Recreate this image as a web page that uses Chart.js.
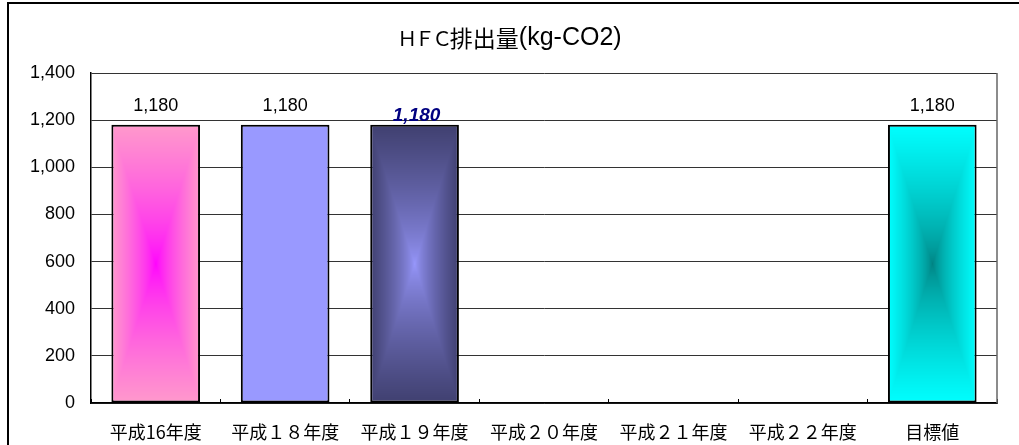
<!DOCTYPE html>
<html>
<head>
<meta charset="utf-8">
<script src="https://cdn.jsdelivr.net/npm/chart.js@4/dist/chart.umd.min.js"></script>
<style>
  body { margin: 0; background: #fff; overflow: hidden; }
  #wrap { position: relative; width: 1019px; height: 445px; }
  #frame { position: absolute; left: 7px; top: 2px; width: 1100px; height: 500px; border: 2px solid #000; pointer-events: none; }
</style>
</head>
<body>
<div id="wrap">
  <canvas id="chart" width="1019" height="445"></canvas>
  <div id="frame"></div>
</div>
<script>
// data
const categories = ['平成16年度', '平成１８年度', '平成１９年度', '平成２０年度', '平成２１年度', '平成２２年度', '目標値'];
const values = [1180, 1180, 1180, null, null, null, 1180];
const yMax = 1400;
const yStep = 200;
// title split in runs because the original mixes narrow full-width letters and plain ascii
const titleParts = ['ＨＦＣ', '排出量', '(kg-CO2)'];

// bar fills: "from center" gradients (center colour -> edge colour) or flat
const fills = [
  { center: [255, 0, 255], edge: [255, 153, 204] },
  { flat: '#9999FF' },
  { center: [153, 153, 255], edge: [64, 64, 112] },
  null, null, null,
  { center: [0, 128, 128], edge: [0, 255, 255] }
];

const BAR_PCT = 0.685;
const patternCache = {};

function centerPattern(ctx2d, i, left, top, w, h) {
  const key = i + ':' + Math.round(w) + 'x' + Math.round(h);
  if (!patternCache[key]) {
    const f = fills[i];
    const cw = Math.max(1, Math.round(w)), ch = Math.max(1, Math.round(h));
    const off = document.createElement('canvas');
    off.width = cw; off.height = ch;
    const octx = off.getContext('2d');
    const img = octx.createImageData(cw, ch);
    const hw = cw / 2, hh = ch / 2;
    for (let y = 0; y < ch; y++) {
      for (let x = 0; x < cw; x++) {
        let t = Math.min(1, Math.max(Math.abs(x + 0.5 - hw) / hw, Math.abs(y + 0.5 - hh) / hh));
        t = Math.pow(t, 0.7);
        const p = (y * cw + x) * 4;
        img.data[p] = f.center[0] + (f.edge[0] - f.center[0]) * t;
        img.data[p + 1] = f.center[1] + (f.edge[1] - f.center[1]) * t;
        img.data[p + 2] = f.center[2] + (f.edge[2] - f.center[2]) * t;
        img.data[p + 3] = 255;
      }
    }
    octx.putImageData(img, 0, 0);
    patternCache[key] = off;
  }
  const pat = ctx2d.createPattern(patternCache[key], 'no-repeat');
  pat.setTransform(new DOMMatrix().translate(left, top));
  return pat;
}

function barFill(c) {
  const i = c.dataIndex;
  const f = fills[i];
  if (!f) return 'rgba(0,0,0,0)';
  if (f.flat) return f.flat;
  const chart = c.chart;
  const xs = chart.scales.x, ys = chart.scales.y;
  if (!xs || !ys || values[i] == null) return 'rgb(' + f.edge.join(',') + ')';
  const w = xs.width / categories.length * BAR_PCT;
  const left = xs.getPixelForValue(i) - w / 2;
  const top = ys.getPixelForValue(values[i]);
  const h = ys.getPixelForValue(0) - top;
  if (!(w > 0 && h > 0)) return 'rgb(' + f.edge.join(',') + ')';
  return centerPattern(chart.ctx, i, left, top, w, h);
}

// value labels above the bars; the third one is bold italic navy in the original
const labelPlugin = {
  id: 'valueLabels',
  afterDatasetsDraw(chart) {
    const ctx = chart.ctx;
    const meta = chart.getDatasetMeta(0);
    ctx.save();
    ctx.textAlign = 'center';
    ctx.textBaseline = 'middle';
    meta.data.forEach((bar, i) => {
      if (values[i] == null) return;
      const txt = values[i].toLocaleString('en-US');
      if (i === 2) {
        ctx.font = 'italic bold 19px "Liberation Sans", Arial, sans-serif';
        ctx.fillStyle = '#000080';
        ctx.fillText(txt, bar.x + 2, bar.y - 9);
      } else {
        ctx.font = '18px "Liberation Sans", Arial, sans-serif';
        ctx.fillStyle = '#000';
        ctx.fillText(txt, bar.x, bar.y - 19);
      }
    });
    ctx.restore();
  }
};

// title drawn in runs, plus the right edge of the plot area
const framePlugin = {
  id: 'frameAndTitle',
  afterDraw(chart) {
    const a = chart.chartArea, ctx = chart.ctx;
    ctx.save();
    ctx.strokeStyle = '#666';
    ctx.lineWidth = 1.5;
    ctx.beginPath();
    ctx.moveTo(a.right, a.top);
    ctx.lineTo(a.right, a.bottom);
    ctx.stroke();

    const runs = [
      { font: '20px "Noto Sans CJK JP", sans-serif', spacing: -2.5 },
      { font: '23px "Noto Sans CJK JP", sans-serif', spacing: 0 },
      { font: '25px "Liberation Sans", Arial, sans-serif', spacing: 0 }
    ];
    ctx.fillStyle = '#000';
    ctx.textBaseline = 'middle';
    ctx.textAlign = 'left';
    let total = 0;
    const widths = titleParts.map((t, k) => {
      ctx.font = runs[k].font;
      ctx.letterSpacing = runs[k].spacing + 'px';
      const w = ctx.measureText(t).width;
      total += w;
      return w;
    });
    let x = chart.width / 2 - total / 2;
    titleParts.forEach((t, k) => {
      ctx.font = runs[k].font;
      ctx.letterSpacing = runs[k].spacing + 'px';
      ctx.fillText(t, x, 38);
      x += widths[k];
    });
    ctx.letterSpacing = '0px';
    ctx.restore();
  }
};

const context = document.getElementById('chart').getContext('2d');
new Chart(context, {
  type: 'bar',
  data: {
    labels: categories,
    datasets: [{
      data: values,
      backgroundColor: barFill,
      borderColor: '#000',
      borderWidth: 2,
      borderSkipped: false,
      barPercentage: BAR_PCT,
      categoryPercentage: 1
    }]
  },
  options: {
    responsive: false,
    animation: false,
    devicePixelRatio: 1,
    locale: 'en-US',
    layout: { padding: { left: 0, right: 22, top: 73, bottom: 0 } },
    plugins: {
      legend: { display: false },
      tooltip: { enabled: false },
      title: { display: false }
    },
    scales: {
      x: {
        grid: { display: true, drawOnChartArea: false, drawTicks: true, tickLength: -4, color: '#000', offset: true },
        border: { display: true, color: '#000', width: 1.5 },
        ticks: {
          color: '#000',
          padding: 22,
          maxRotation: 0,
          autoSkip: false,
          font: { family: '"Noto Sans CJK JP", sans-serif', size: 18 }
        },
        afterFit(s) { s.height = 42; }
      },
      y: {
        min: 0,
        max: yMax,
        grid: { color: '#333', lineWidth: 1, drawTicks: false },
        border: { display: true, color: '#000', width: 1.5 },
        ticks: {
          stepSize: yStep,
          padding: 16,
          color: '#000',
          font: { family: '"Liberation Sans", Arial, sans-serif', size: 18 }
        },
        afterFit(s) { s.width = 91; }
      }
    }
  },
  plugins: [labelPlugin, framePlugin]
});
</script>
</body>
</html>
